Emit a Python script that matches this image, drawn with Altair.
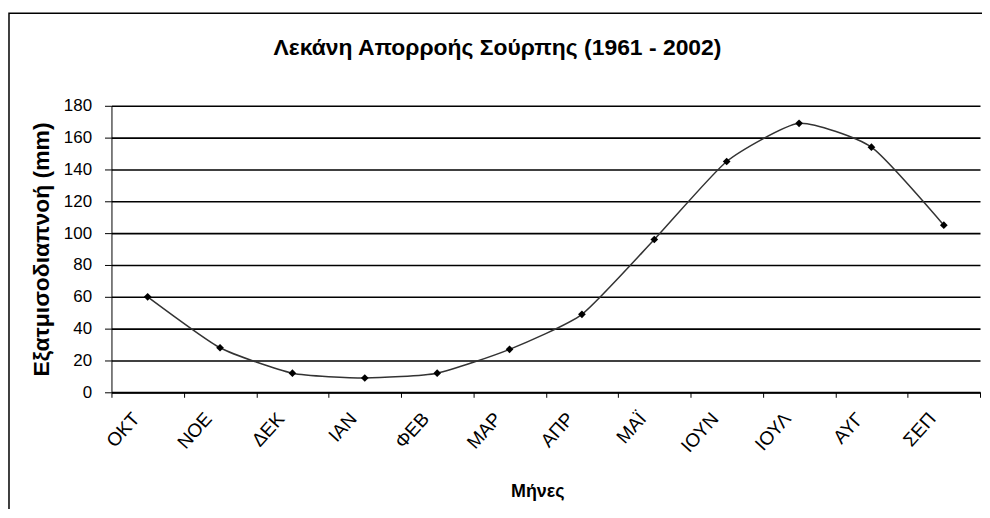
import altair as alt
import pandas as pd

months = ["ΟΚΤ", "ΝΟΕ", "ΔΕΚ", "ΙΑΝ", "ΦΕΒ", "ΜΑΡ", "ΑΠΡ", "ΜΑΪ", "ΙΟΥΝ", "ΙΟΥΛ", "ΑΥΓ", "ΣΕΠ"]
values = [60, 28, 12, 9, 12, 27, 49, 96, 145, 169, 154, 105]
y_ticks = [0, 20, 40, 60, 80, 100, 120, 140, 160, 180]

title_text = "Λεκάνη Απορροής Σούρπης (1961 - 2002)"
y_title = "Εξατμισοδιαπνοή (mm)"
x_title = "Μήνες"

df = pd.DataFrame({"month": months, "value": values})

W, H = 873, 288
FONT = "Liberation Sans"

x_enc = alt.X(
    "month:N",
    sort=months,
    scale=alt.Scale(paddingInner=0, paddingOuter=0),
    axis=alt.Axis(
        title=x_title,
        labelAngle=-48,
        tickBand="extent",
        labelFontSize=19,
        labelPadding=18,
        labelOffset=-12,
        tickSize=5,
        domainWidth=2,
        titleFontSize=18,
        titleFontWeight="bold",
        titlePadding=27,
        titleX=428,
        grid=False,
    ),
)
y_enc = alt.Y(
    "value:Q",
    scale=alt.Scale(domain=[0, 180], nice=False),
    axis=alt.Axis(
        title=y_title,
        values=y_ticks,
        labelFontSize=17,
        labelPadding=13,
        tickSize=7,
        titleFontSize=23,
        titleFontWeight="bold",
        titlePadding=10,
        grid=True,
        gridColor="black",
        gridWidth=1.6,
    ),
)

base = alt.Chart(df)
line = base.mark_line(
    color="#333333", strokeWidth=1.5, interpolate="cardinal", tension=0.45
).encode(x=x_enc, y=y_enc)
pts = base.mark_point(
    shape="diamond", filled=True, color="black", size=60, opacity=1
).encode(x=x_enc, y=y_enc)

frame = alt.Chart(alt.Data(values=[{}])).mark_rect(
    filled=False, stroke="black", strokeWidth=1.5
).encode(
    x=alt.value(-103), x2=alt.value(W + 20), y=alt.value(-93), y2=alt.value(H + 140)
)

title_mark = alt.Chart(alt.Data(values=[{"t": title_text}])).mark_text(
    font=FONT, fontSize=23, fontWeight="bold", color="black",
    align="center", baseline="middle"
).encode(
    text="t:N", x=alt.value(388), y=alt.value(-58)
)

chart = alt.layer(frame, line, pts, title_mark).properties(
    width=W,
    height=H,
    autosize=alt.AutoSizeParams(type="none"),
    padding={"left": 104, "top": 97, "right": 2, "bottom": 116},
).configure_view(stroke=None).configure_axis(
    labelFont=FONT,
    titleFont=FONT,
    labelColor="black",
    titleColor="black",
    domainColor="black",
    tickColor="black",
)

chart.save("out.html", embed_options={"renderer": "svg", "actions": False})
